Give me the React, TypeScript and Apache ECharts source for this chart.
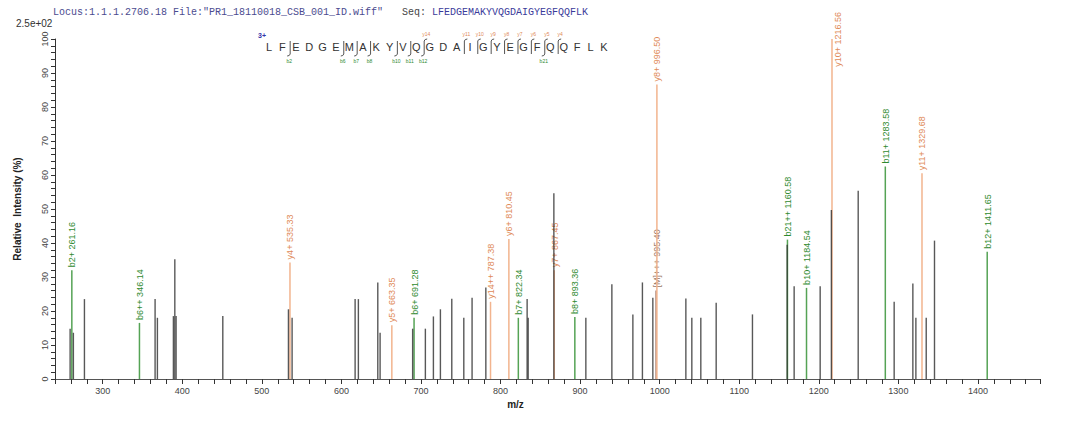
import React, { useEffect, useRef } from "react";
import * as echarts from "echarts";

// ---------- data ----------
const headerLocus = 'Locus:1.1.1.2706.18 File:"PR1_18110018_CSB_001_ID.wiff"';
const headerSeqLabel = "Seq:";
const sequence = "LFEDGEMAKYVQGDAIGYEGFQQFLK";
const chargeLabel = "3+";
const scaleLabel = "2.5e+02";
const bSites = [2, 6, 7, 8, 10, 11, 12, 21];
const ySites = [14, 11, 10, 9, 8, 7, 6, 5, 4];
const xAxisTitle = "m/z";
const yAxisTitle = "Relative  Intensity (%)";

// unannotated peaks
const grayMz = [259.0, 263.1, 277.0, 365.8, 368.7, 388.8, 390.6, 392.2, 450.9, 533.4, 538.0, 617.2, 621.3, 645.7, 648.6, 689.5, 705.5, 715.6, 724.4, 738.7, 753.8, 764.2, 781.5, 833.4, 834.7, 867.0, 907.2, 939.9, 966.3, 978.3, 991.4, 1032.9, 1040.4, 1051.7, 1071.0, 1116.6, 1160.2, 1169.0, 1201.7, 1215.8, 1249.5, 1294.7, 1318.2, 1322.0, 1335.0, 1345.4];
const grayInt = [14.8, 13.6, 23.5, 23.5, 18, 18.5, 35.2, 18.5, 18.5, 20.5, 18, 23.5, 23.5, 28.4, 13.6, 14.8, 14.8, 18.4, 20.5, 23.6, 18, 23.9, 26.9, 23.5, 18, 54.6, 18, 27.9, 19, 28.4, 23.9, 23.7, 18, 18, 22.4, 19, 39.5, 27.3, 27.3, 49.7, 55.4, 22.7, 28.1, 18, 18, 40.7];

// annotated fragment ions
const ionLabels = ["b2+ 261.16", "b6++ 346.14", "y4+ 535.33", "y5+ 663.35", "b6+ 691.28", "y14++ 787.38", "y6+ 810.45", "b7+ 822.34", "y7+ 867.45", "b8+ 893.36", "[M]+++ 995.40", "y8+ 996.50", "b21++ 1160.58", "b10+ 1184.54", "y10+ 1216.56", "b11+ 1283.58", "y11+ 1329.68", "b12+ 1411.65"];
const ionMz = [261.16, 346.14, 535.33, 663.35, 691.28, 787.38, 810.45, 822.34, 867.45, 893.36, 995.40, 996.50, 1160.58, 1184.54, 1216.56, 1283.58, 1329.68, 1411.65];
const ionInt = [32, 16.5, 34.3, 15.8, 18, 22.7, 41.2, 18, 32, 18.2, 26, 86.6, 41, 26.8, 100, 62.5, 60.5, 37.4];

// ---------- style ----------
const GREEN_LINE = "#55a355";
const GREEN_TEXT = "#2f8a2f";
const ORANGE_LINE = "#f2b48e";
const ORANGE_TEXT = "#e08a58";
const BROWN_LINE = "#b08878";
const BROWN_TEXT = "#9a7868";
const GRAY_LINE = "#2e2e2e";
const SANS = '"Liberation Sans", Arial, sans-serif';
const MONO = '"Liberation Mono", "Courier New", monospace';

const PEP_X0 = 269;
const PEP_DX = 13.4;
const PEP_Y = 47;

function buildGraphic() {
  const els: any[] = [];
  els.push({ type: "text", x: 53, y: 12, style: { text: headerLocus, font: `10px ${MONO}`, fill: "#4b4b8f", align: "left", verticalAlign: "middle" } });
  els.push({ type: "text", x: 402, y: 12, style: { text: headerSeqLabel, font: `10px ${MONO}`, fill: "#444", align: "left", verticalAlign: "middle" } });
  els.push({ type: "text", x: 432, y: 12, style: { text: sequence, font: `10px ${MONO}`, fill: "#3a3a9a", align: "left", verticalAlign: "middle" } });
  els.push({ type: "text", x: 16, y: 23, style: { text: scaleLabel, font: `10px ${SANS}`, fill: "#333", align: "left", verticalAlign: "middle" } });
  els.push({ type: "text", x: 258, y: 35, style: { text: chargeLabel, font: `bold 7px ${SANS}`, fill: "#3333aa", align: "left", verticalAlign: "middle" } });
  const n = sequence.length;
  for (let i = 0; i < n; i++) {
    els.push({ type: "text", x: PEP_X0 + i * PEP_DX, y: PEP_Y, style: { text: sequence[i], font: `11px ${SANS}`, fill: "#333", align: "center", verticalAlign: "middle" } });
  }
  const sites = new Set<number>();
  bSites.forEach((k) => sites.add(k));
  ySites.forEach((m) => sites.add(n - m));
  sites.forEach((k) => {
    const x = PEP_X0 + (k - 0.42) * PEP_DX;
    els.push({ type: "line", shape: { x1: x, y1: 41, x2: x, y2: 54 }, style: { stroke: "#555", lineWidth: 1 } });
  });
  bSites.forEach((k) => {
    const x = PEP_X0 + (k - 0.42) * PEP_DX;
    els.push({ type: "polyline", shape: { points: [[x, 54], [x - 1, 55.5], [x - 3, 56]] }, style: { stroke: "#555", lineWidth: 1, fill: null } });
    els.push({ type: "text", x: x - 1, y: 61, style: { text: "b" + k, font: `5px ${SANS}`, fill: GREEN_TEXT, align: "center", verticalAlign: "middle" } });
  });
  ySites.forEach((m) => {
    const k = n - m;
    const x = PEP_X0 + (k - 0.42) * PEP_DX;
    els.push({ type: "polyline", shape: { points: [[x, 41], [x + 1, 39.5], [x + 3, 39]] }, style: { stroke: "#555", lineWidth: 1, fill: null } });
    els.push({ type: "text", x: x + 2, y: 34, style: { text: "y" + m, font: `5px ${SANS}`, fill: ORANGE_TEXT, align: "center", verticalAlign: "middle" } });
  });
  return els;
}

export default function App() {
  const ref = useRef<HTMLDivElement>(null);
  useEffect(() => {
    if (!ref.current) return;
    const chart = echarts.init(ref.current, undefined, { renderer: "svg" });
    const option: any = {
      animation: false,
      backgroundColor: "#ffffff",
      textStyle: { fontFamily: SANS },
      grid: { left: 55, right: 40, top: 39, bottom: 44 },
      xAxis: {
        type: "value",
        min: 240,
        max: 1478,
        interval: 20,
        name: xAxisTitle,
        nameLocation: "middle",
        nameGap: 20,
        nameTextStyle: { fontWeight: "bold", fontSize: 10, color: "#222", padding: [0, 64, 0, 0] },
        axisLine: { lineStyle: { color: "#555" } },
        axisTick: { length: 5, lineStyle: { color: "#333" } },
        axisLabel: { fontSize: 9, color: "#444", margin: 7, formatter: (v: number) => (v % 100 === 0 ? String(v) : "") },
        splitLine: { show: false },
      },
      yAxis: {
        type: "value",
        min: 0,
        max: 100,
        interval: 2,
        name: yAxisTitle,
        nameLocation: "middle",
        nameGap: 33,
        nameTextStyle: { fontWeight: "bold", fontSize: 10, color: "#222" },
        axisLine: { show: true, lineStyle: { color: "#333" } },
        axisTick: { show: true, length: 4, lineStyle: { color: "#333" } },
        axisLabel: { fontSize: 9, color: "#444", rotate: 90, margin: 6, formatter: (v: number) => (v % 10 === 0 ? String(v) : "") },
        splitLine: { show: false },
      },
      series: [
        {
          type: "custom",
          coordinateSystem: "cartesian2d",
          encode: { x: 0, y: 1 },
          clip: false,
          z: 2,
          data: ionMz.map((m, i) => [m, ionInt[i]]),
          renderItem: (params: any, api: any) => {
            const i = params.dataIndex;
            const mz = api.value(0);
            const it = api.value(1);
            const base = api.coord([mz, 0]);
            const top = api.coord([mz, it]);
            const label = ionLabels[i];
            const kind = label[0];
            const lc = kind === "b" ? GREEN_LINE : kind === "y" ? ORANGE_LINE : BROWN_LINE;
            const tc = kind === "b" ? GREEN_TEXT : kind === "y" ? ORANGE_TEXT : BROWN_TEXT;
            const est = label.length * 4.6;
            const fits = top[1] - 3 - est > 6;
            const font = `9px ${SANS}`;
            const text = fits
              ? { type: "text", x: top[0] + 0.5, y: top[1] - 3, rotation: Math.PI / 2, style: { text: label, fill: tc, font, align: "left", verticalAlign: "middle" } }
              : { type: "text", x: top[0] + 6, y: 12, rotation: Math.PI / 2, style: { text: label, fill: tc, font, align: "right", verticalAlign: "middle" } };
            return {
              type: "group",
              children: [
                { type: "line", shape: { x1: base[0], y1: base[1], x2: top[0], y2: top[1] }, style: { stroke: lc, lineWidth: 1.5 } },
                text,
              ],
            };
          },
        },
        {
          type: "custom",
          coordinateSystem: "cartesian2d",
          encode: { x: 0, y: 1 },
          z: 3,
          data: grayMz.map((m, i) => [m, grayInt[i]]),
          renderItem: (params: any, api: any) => {
            const mz = api.value(0);
            const it = api.value(1);
            const base = api.coord([mz, 0]);
            const top = api.coord([mz, it]);
            return { type: "line", shape: { x1: base[0], y1: base[1], x2: top[0], y2: top[1] }, style: { stroke: GRAY_LINE, lineWidth: 1.4, opacity: 0.8 } };
          },
        },
      ],
      graphic: buildGraphic(),
    };
    chart.setOption(option);
    return () => chart.dispose();
  }, []);
  return <div ref={ref} style={{ position: "absolute", left: 0, top: 0, width: 1080, height: 423, background: "#fff" }} />;
}
